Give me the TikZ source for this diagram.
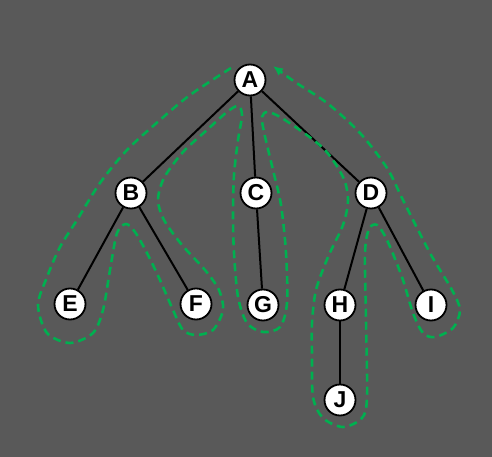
\documentclass[tikz,border=0pt]{standalone}
\usepackage{fontspec}
\setsansfont{Liberation Sans}
\usetikzlibrary{arrows.meta}
\definecolor{fundo}{HTML}{595959}
\definecolor{verde}{HTML}{00B050}
\tikzset{
  no/.style={circle,draw=black,fill=white,line width=1.8pt,minimum size=31pt,inner sep=0pt,
    font=\sffamily\bfseries\fontsize{23}{25}\selectfont},
  aresta/.style={line width=2pt,black},
  percurso/.style={verde,line width=2.6pt,dash pattern=on 8pt off 5pt,line cap=butt}
}
\begin{document}
\begin{tikzpicture}[x=1pt,y=-1pt]

% fundo
\fill[fundo] (0,0) rectangle (492,457);
\useasboundingbox (0,0) rectangle (492,457);

% nos
\node[no] (A) at (250,80) {A};
\node[no] (B) at (131,193) {B};
\node[no] (C) at (256,193) {C};
\node[no] (D) at (371,193) {D};
\node[no] (E) at (70,304) {E};
\node[no] (F) at (196,304) {F};
\node[no] (G) at (263,305) {G};
\node[no] (H) at (340,305) {H};
\node[no] (I) at (431,305) {I};
\node[no] (J) at (340,400) {J};

% arestas
\draw[aresta] (A) -- (B);
\draw[aresta] (A) -- (C);
\draw[aresta] (A) -- (D);
\draw[aresta] (B) -- (E);
\draw[aresta] (B) -- (F);
\draw[aresta] (C) -- (G);
\draw[aresta] (D) -- (H);
\draw[aresta] (D) -- (I);
\draw[aresta] (H) -- (J);

% percurso
\draw[percurso,-{Latex[length=10pt,width=9pt]}] plot[smooth,tension=0.5] coordinates {
  (231,68) (190,95) (160,120) (127,150) (100,183) (77,220) (60,247) (47,277)
  (38,305) (47,333) (70,343) (93,333) (103,310) (110,270) (117,233) (126,224)
  (135,232) (147,253) (160,280) (173,310) (183,330) (196,335) (213,330)
  (223,310) (219,290) (205,270) (182,245) (164,220) (158,200) (164,178)
  (183,152) (207,130) (227,112) (238,106) (242,115) (238,140) (234,175)
  (233,215) (234,253) (238,297) (247,323) (263,332) (280,327) (287,303)
  (286,253) (281,205) (273,170) (264,132) (262,117) (268,112) (285,120)
  (323,148) (343,177) (348,200) (343,225) (328,257) (316,290) (312,323)
  (312,353) (313,397) (323,418) (343,427) (362,418) (367,397) (366,320)
  (365,253) (369,229) (377,225) (387,240) (402,277) (413,313) (423,333)
  (435,337) (453,328) (460,310) (452,290) (430,253) (403,200) (387,168)
  (360,133) (327,103) (295,82) (273,66)
};

\end{tikzpicture}
\end{document}
